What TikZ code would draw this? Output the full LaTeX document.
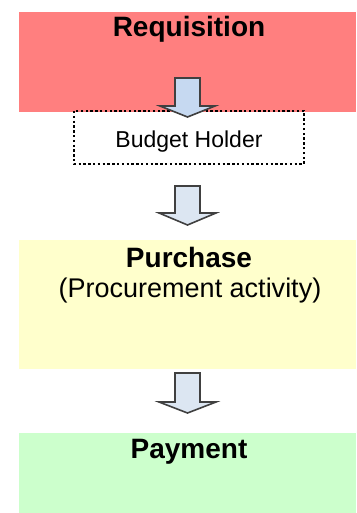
\documentclass[tikz,border=0pt]{standalone}
\usepackage{fontspec}
\setmainfont{Liberation Sans}
\usepackage{tikz}

\definecolor{reqred}{HTML}{FF7F7F}
\definecolor{puryellow}{HTML}{FFFFCC}
\definecolor{paygreen}{HTML}{CCFFCC}
\definecolor{arrowblue}{HTML}{C6D9F1}
\definecolor{arrowpale}{HTML}{DCE6F2}
\definecolor{arrowline}{HTML}{404040}

\tikzset{
	title/.style={font=\fontsize{28}{32}\selectfont\bfseries,anchor=base},
	sub/.style={font=\fontsize{27}{32}\selectfont,anchor=base},
	blockarrow/.style={fill=#1,draw=arrowline,line width=1.6pt,line join=miter}
}

\begin{document}
\begin{tikzpicture}[x=1pt,y=-1pt]
	\useasboundingbox (0,0) rectangle (356,513);
	% stages
	\fill[reqred] (19,12) rectangle (356,112);
	\fill[puryellow] (19,240) rectangle (356,369);
	\fill[paygreen] (19,433) rectangle (356,513);
	\node[title](req) at (189,37) {Requisition};
	\node[title](pur) at (189,267) {Purchase};
	\node[sub](proc) at (190,297) {(Procurement activity)};
	\node[title](pay) at (189,458) {Payment};
	% budget holder
	\draw[line width=2.4pt,dash pattern=on 2.4pt off 2.4pt] (74,111) rectangle (304,164);
	\node[font=\fontsize{23}{26}\selectfont,anchor=base](bh) at (189,148) {Budget Holder};
	% arrows
	\draw[blockarrow=arrowblue] (175,78) -- (200,78) -- (200,106) -- (215,106) -- (187.5,117) -- (160,106) -- (175,106) -- cycle;
	\draw[blockarrow=arrowpale] (175,186) -- (200,186) -- (200,213) -- (216,213) -- (187.5,225) -- (159,213) -- (175,213) -- cycle;
	\draw[blockarrow=arrowpale] (175,373) -- (200,373) -- (200,402) -- (216,402) -- (187.5,413) -- (159,402) -- (175,402) -- cycle;
\end{tikzpicture}
\end{document}
